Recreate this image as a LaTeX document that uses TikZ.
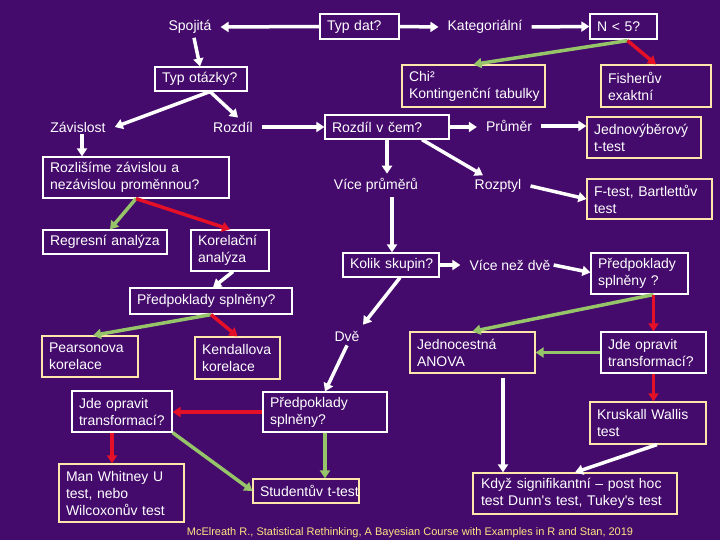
\documentclass[tikz,border=0pt]{standalone}
\usepackage{fontspec}
\newfontfamily\lsans{Liberation Sans}
\usetikzlibrary{arrows.meta,calc}
\definecolor{bgpurple}{RGB}{68,10,108}
\definecolor{cream}{RGB}{255,230,170}
\definecolor{agreen}{RGB}{150,196,104}
\definecolor{ared}{RGB}{228,16,40}
\definecolor{footc}{RGB}{255,228,130}
\begin{document}
\begin{tikzpicture}[x=1pt,y=-1pt,
  every node/.style={font=\lsans\fontsize{14pt}{17pt}\selectfont, text=white},
  qbox/.style={draw=white, line width=1.2pt, align=left, inner xsep=7pt, inner ysep=0pt,
    execute at begin node={\hyphenpenalty=10000\exhyphenpenalty=10000\hbadness=10000\hfuzz=50pt}},
  abox/.style={qbox, draw=cream},
  ftext/.style={inner xsep=9pt, inner ysep=4pt},
  wa/.style={draw=white, line width=3.5pt, -{Triangle[length=8pt,width=10pt]}},
  ga/.style={wa, draw=agreen, -{Triangle[length=8pt,width=10pt,fill=agreen]}},
  ra/.style={wa, draw=ared, -{Triangle[length=8pt,width=10pt,fill=ared]}},
]
\fill[bgpurple] (0,0) rectangle (720,540);
\useasboundingbox (0,0) rectangle (720,540);

% free texts
\node[ftext] (spojita) at (190,27) {Spojitá};
\node[ftext] (kateg) at (485,27) {Kategoriální};
\node[ftext] (zavislost) at (78,127) {Závislost};
\node[ftext] (rozdil) at (233,127) {Rozdíl};
\node[ftext] (prumer) at (509,126) {Průměr};
\node[ftext] (viceprumeru) at (376,185) {Více průměrů};
\node[ftext] (rozptyl) at (498,186) {Rozptyl};
\node[ftext] (vicenezdve) at (510,265) {Více než dvě};
\node[ftext] (dve) at (347,336) {Dvě};

% boxes
\node[qbox, text width=65pt, minimum height=25pt] (typdat) at (359.5,26.5) {Typ~dat?};
\node[qbox, text width=53pt, minimum height=25pt] (n5) at (623.5,26.5) {N~<~5?};
\node[abox, text width=129pt, minimum height=42pt] (chi) at (473.5,86) {Chi²\\Kontingenční~tabulky};
\node[abox, text width=96pt, minimum height=42pt] (fisher) at (656,86) {Fisherův\\exaktní};
\node[qbox, text width=78pt, minimum height=24pt] (typotazky) at (201,79) {Typ~otázky?};
\node[qbox, text width=110pt, minimum height=24pt] (rozdilvcem) at (387,127) {Rozdíl~v~čem?};
\node[abox, text width=100pt, minimum height=41pt] (jedno) at (644,137.5) {Jednovýběrový\\t-test};
\node[abox, text width=111pt, minimum height=40pt] (ftest) at (649.5,199) {F-test,~Bartlettův\\test};
\node[qbox, text width=172pt, minimum height=41pt] (rozlisime) at (136,177.5) {Rozlišíme~závislou~a\\nezávislou~proměnnou?};
\node[qbox, text width=110pt, minimum height=24pt] (regresni) at (105,242) {Regresní~analýza};
\node[qbox, text width=64pt, minimum height=41pt] (korelacni) at (230,250.5) {Korelační\\analýza};
\node[qbox, text width=82pt, minimum height=24pt] (kolik) at (391,265) {Kolik~skupin?};
\node[qbox, text width=83pt, minimum height=41pt] (predR) at (639.5,273.5) {Předpoklady\\splněny~?};
\node[qbox, text width=148pt, minimum height=26pt] (predL) at (211,301) {Předpoklady~splněny?};
\node[abox, text width=82pt, minimum height=41pt] (pearson) at (90,356.5) {Pearsonova\\korelace};
\node[abox, text width=71pt, minimum height=42pt] (kendall) at (237.5,358) {Kendallova\\korelace};
\node[qbox, text width=86pt, minimum height=41pt] (jdeL) at (122,411.5) {Jde~opravit\\transformací?};
\node[qbox, text width=110pt, minimum height=40pt] (predM) at (325,412) {Předpoklady\\splněny?};
\node[abox, text width=111pt, minimum height=58pt] (manwhitney) at (121.5,493) {Man~Whitney~U\\test,~nebo\\Wilcoxonův~test};
\node[abox, text width=92pt, minimum height=24pt] (student) at (306,491) {Studentův~t-test};
\node[abox, text width=111pt, minimum height=41pt] (jednocestna) at (472.5,352.5) {Jednocestná\\ANOVA};
\node[qbox, text width=91pt, minimum height=41pt] (jdeR) at (653.5,352.5) {Jde~opravit\\transformací?};
\node[abox, text width=102pt, minimum height=42pt] (kruskal) at (648,423) {Kruskall~Wallis\\test};
\node[abox, text width=188pt, minimum height=41pt, inner xsep=8pt] (kdyz) at (575,493.5) {Když~signifikantní~–~post~hoc\\test~Dunn's~test,~Tukey's~test};

\node[text=footc, font=\lsans\fontsize{11pt}{13pt}\selectfont] (foot) at (410,533)
  {McElreath R., Statistical Rethinking, A Bayesian Course with Examples in R and Stan, 2019};

% helper coordinates
\coordinate (n5s) at ($(n5.south)+(4,1)$);
\coordinate (z1) at ($(zavislost.south)+(4,-2)$);
\coordinate (v1) at ($(viceprumeru.south)+(16,1)$);
\coordinate (j1) at ($(jednocestna.south)+(30.5,4)$);
\coordinate (jl) at ($(jdeL.south)+(-10,0)$);
\coordinate (pr1) at (predR.south -| jdeR.north);
\coordinate (tos) at ($(typotazky.south)+(9,0)$);

% top row
\draw[wa] (typdat.west) -- (spojita.east);
\draw[wa] (typdat.east) -- (kateg.west);
\draw[wa] (kateg.east) -- (n5.west);
\draw[ga] (n5s) -- (chi.north);
\draw[ra] (n5s) -- (fisher.north);
\draw[wa] ($(spojita.south)+(4,0)$) -- ($(typotazky.north)+(-1,0)$);
\draw[wa] (tos) -- (zavislost.east);
\draw[wa] (tos) -- ($(rozdil.north)+(5,0)$);
\draw[wa] (rozdil.east) -- (rozdilvcem.west);
\draw[wa] (rozdilvcem.east) -- (rozdilvcem.east -| prumer.west);
\draw[wa] (prumer.east) -- (prumer.east -| jedno.west);
\draw[wa] (rozdilvcem.south) -- (rozdilvcem.south |- viceprumeru.north);
\draw[wa] ($(rozdilvcem.south)+(35,0)$) -- ($(rozptyl.north)+(-15,0)$);
\draw[wa] (rozptyl.east) -- (ftest.west);
\draw[wa] (v1) -- (v1 |- kolik.north);
\draw[wa] (kolik.east) -- (kolik.east -| vicenezdve.west);
\draw[wa] ($(vicenezdve.east)+(-6,0)$) -- ($(predR.west)+(0,-1)$);
\draw[wa] ($(kolik.south)+(9,0)$) -- ($(dve.north)+(16,-2)$);
\draw[wa] (dve.south) -- (predM.north);

% right lower
\draw[ga] (pr1) -- (jednocestna.north);
\draw[ra] (pr1) -- (jdeR.north);
\draw[ga] (jdeR.west) -- (jdeR.west -| jednocestna.east);
\draw[ra] (jdeR.south) -- (jdeR.south |- kruskal.north);
\draw[wa] (j1) -- (j1 |- kdyz.north);
\draw[wa] ($(kruskal.south)+(9,0)$) -- (kdyz.north);

% left side
\draw[wa] (z1) -- (z1 |- rozlisime.north);
\draw[ga] (rozlisime.south) -- ($(regresni.north)+(5,0)$);
\draw[ra] (rozlisime.south) -- (korelacni.north);
\draw[wa] ($(korelacni.south)+(3,0)$) -- ($(predL.north)+(2,0)$);
\draw[ga] (predL.south) -- ($(pearson.north)+(3,0)$);
\draw[ra] (predL.south) -- (kendall.north);
\draw[ra] (predM.west) -- (predM.west -| jdeL.east);
\draw[ga] (predM.south) -- (predM.south |- student.north);
\draw[ga] (jdeL.south east) -- (student.west);
\draw[ra] (jl) -- (jl |- manwhitney.north);
\end{tikzpicture}
\end{document}
